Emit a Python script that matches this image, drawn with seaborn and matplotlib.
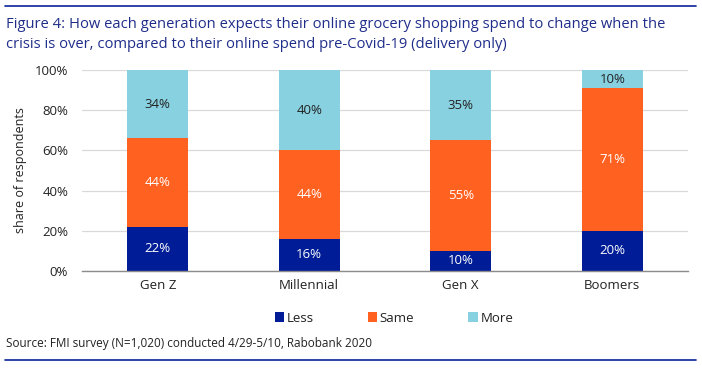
import matplotlib
matplotlib.use("Agg")
import matplotlib.pyplot as plt
import seaborn as sns
import pandas as pd
import numpy as np
from matplotlib.patches import Patch
from matplotlib.lines import Line2D

categories = ["Gen Z", "Millennial", "Gen X", "Boomers"]
less = [22, 16, 10, 20]
same = [44, 44, 55, 71]
more = [34, 40, 35, 10]
series_names = ["Less", "Same", "More"]
colors = ["#001C96", "#FF6120", "#88D1E1"]
label_colors = ["white", "white", "#222222"]
y_ticks = [0, 20, 40, 60, 80, 100]
y_tick_labels = ["0%", "20%", "40%", "60%", "80%", "100%"]

sns.set_theme(style="white")
plt.rcParams["font.family"] = ["Open Sans", "DejaVu Sans"]

fig = plt.figure(figsize=(7.02, 3.68), dpi=100)
W, H = 702, 368
ax = fig.add_axes([82 / W, 1 - 271 / H, (688 - 82) / W, (271 - 70) / H])

df = pd.DataFrame({"cat": categories, "Less": less, "Same": same, "More": more})
df["c1"] = df["Less"]
df["c2"] = df["Less"] + df["Same"]
df["c3"] = df["c2"] + df["More"]

for col, color in zip(["c3", "c2", "c1"], colors[::-1]):
    sns.barplot(data=df, x="cat", y=col, color=color, width=0.4, ax=ax,
                saturation=1, edgecolor="none", linewidth=0, zorder=3)

ax.set_ylim(0, 100)
ax.set_xlim(-0.5, 3.5)
ax.set_yticks(y_ticks)
ax.set_yticklabels(y_tick_labels)
ax.yaxis.grid(True, color="#D9D9D9", linewidth=0.9, zorder=0)
ax.set_axisbelow(True)
for s in ["top", "right", "left"]:
    ax.spines[s].set_visible(False)
ax.spines["bottom"].set_color("#8C8C8C")
ax.spines["bottom"].set_linewidth(1.0)
ax.spines["bottom"].set_zorder(5)
ax.tick_params(axis="both", length=0, labelsize=9.5, colors="#222222", pad=6)
ax.tick_params(axis="y", pad=10)
ax.set_xlabel("")
ax.set_ylabel("share of respondents", fontsize=9, color="#222222")
ax.yaxis.set_label_coords(-0.091, 0.5)

# value labels
for i in range(len(categories)):
    bottoms = [0, less[i], less[i] + same[i]]
    vals = [less[i], same[i], more[i]]
    for b, v, lc in zip(bottoms, vals, label_colors):
        top = min(b + v, 100)
        ax.text(i, (b + top) / 2, f"{v}%", ha="center", va="center",
                fontsize=9.5, color=lc, zorder=6)

# legend
handles = [Patch(facecolor=c, edgecolor="none", label=n) for c, n in zip(colors, series_names)]
fig.legend(handles=handles, loc="center", bbox_to_anchor=(394 / W, 1 - 318 / H),
           ncol=3, frameon=False, fontsize=9.5, handlelength=0.7, handleheight=0.7,
           handletextpad=0.2, columnspacing=4.1, labelcolor="#222222")

# title
title_color = "#1F2D8A"
fig.text(6 / W, 1 - 25 / H, "Figure 4: How each generation expects their online grocery shopping spend to change when the",
         fontsize=10.6, color=title_color, va="center", ha="left")
fig.text(6 / W, 1 - 45 / H, "crisis is over, compared to their online spend pre-Covid-19 (delivery only)",
         fontsize=10.6, color=title_color, va="center", ha="left")
fig.text(6 / W, 1 - 343 / H, "Source: FMI survey (N=1,020) conducted 4/29-5/10, Rabobank 2020",
         fontsize=8.5, color="#222222", va="center", ha="left")

# rules
fig.add_artist(Line2D([5 / W, 696 / W], [1 - 6 / H, 1 - 6 / H], color="#0A2399", linewidth=1.2))
fig.add_artist(Line2D([5 / W, 696 / W], [1 - 360 / H, 1 - 360 / H], color="#0A2399", linewidth=1.2))

fig.savefig("out.png", dpi=100)
